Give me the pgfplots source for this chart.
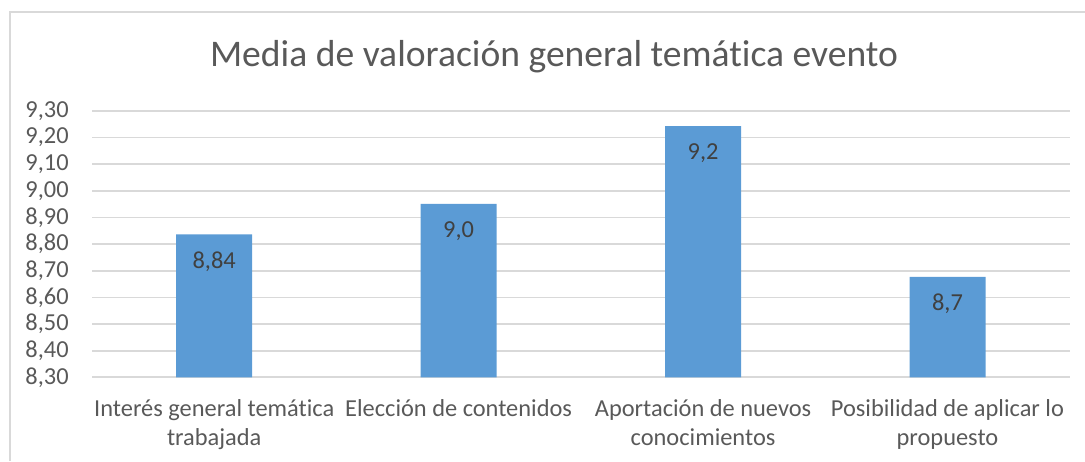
\documentclass[border=0pt]{standalone}
\usepackage{fontspec}
\setmainfont{Carlito}[Ligatures={NoCommon}]
\usepackage{pgfplots}
\usepackage{pgfplotstable}
\pgfplotsset{compat=1.18}
\definecolor{barblue}{HTML}{5B9BD5}
\definecolor{gridgray}{HTML}{D9D9D9}
\definecolor{txtgray}{HTML}{595959}
\definecolor{lblgray}{HTML}{404040}
\definecolor{framegray}{HTML}{D9D9D9}
\pgfplotstableread{
x y lbl
0 8.837 8,84
1 8.951 9,0
2 9.243 9,2
3 8.677 8,7
}\datatable
\begin{document}
\begin{tikzpicture}
\useasboundingbox (0,0) rectangle (542.5pt,230.5pt);
\draw[framegray, line width=0.8pt] (5pt,0) -- (5pt,224.5pt) -- (542.5pt,224.5pt);
\node[txtgray, font=\fontsize{18.8}{22}\selectfont] at (277pt,202pt) {Media de valoración general temática evento};
\begin{axis}[
  at={(46pt,41.85pt)}, anchor=south west,
  scale only axis, width=488.85pt, height=133.15pt,
  xmin=-0.5, xmax=3.5, ymin=8.3, ymax=9.3,
  ytick={8.3,8.4,8.5,8.6,8.7,8.8,8.9,9.0,9.1,9.2,9.3},
  xtick=data,
  xticklabels={{Interés general temática\\trabajada},{Elección de contenidos},{Aportación de nuevos\\conocimientos},{Posibilidad de aplicar lo\\propuesto}},
  axis x line*=bottom, axis y line*=left,
  x axis line style={gridgray, line width=1pt},
  y axis line style={draw=none},
  ymajorgrids, grid style={gridgray, line width=0.85pt},
  major tick length=0pt,
  tick label style={txtgray, font=\fontsize{12.2}{14.5}\selectfont},
  yticklabel style={anchor=east, inner sep=0pt, xshift=-11.5pt,
    /pgf/number format/.cd, fixed, fixed zerofill, precision=2, use comma, assume math mode=true},
  xticklabel style={anchor=north, inner sep=0pt, yshift=-11pt, align=center},
  ybar, bar width=38pt,
  nodes near coords,
  point meta=explicit symbolic,
  nodes near coords style={anchor=center, yshift=-13.5pt, lblgray, font=\fontsize{12.2}{14.5}\selectfont},
  clip=false,
]
\addplot[fill=barblue, draw=none] table[x=x, y=y, meta=lbl] {\datatable};
\end{axis}
\end{tikzpicture}
\end{document}
